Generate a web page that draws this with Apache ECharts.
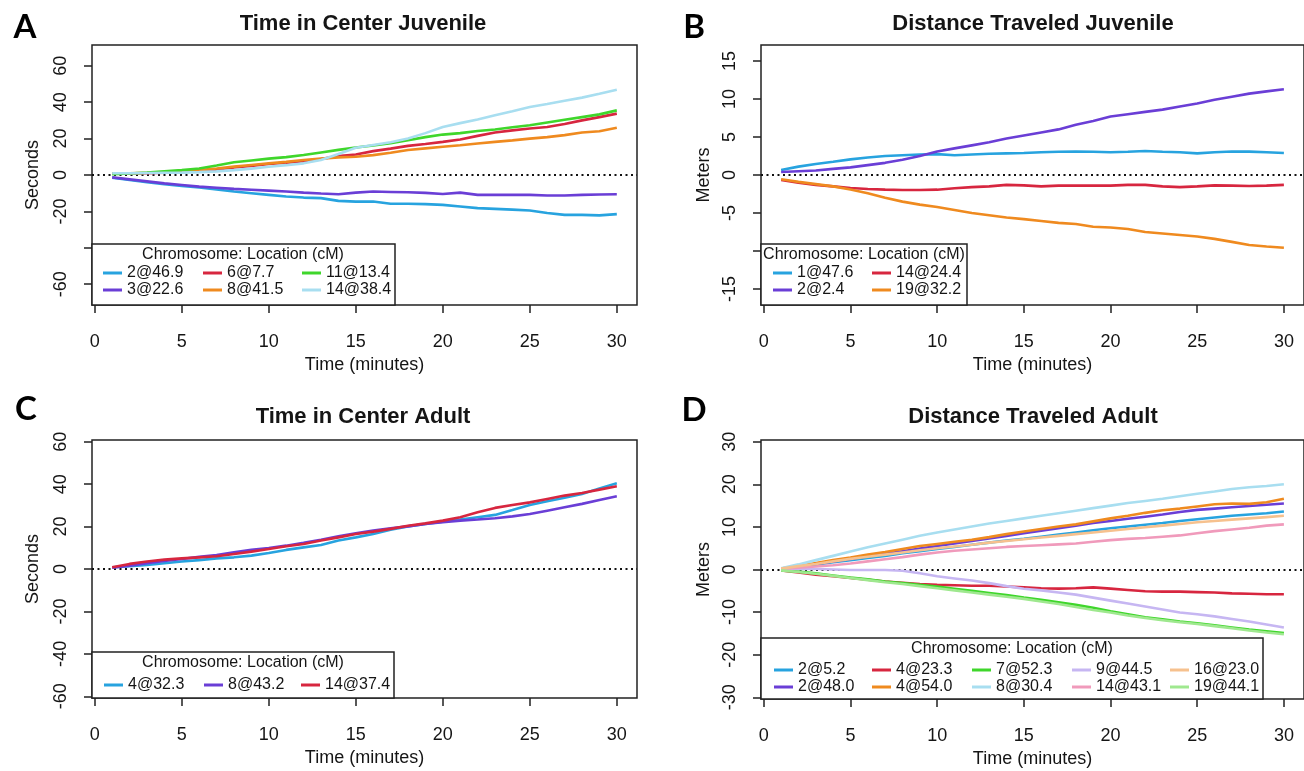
<!DOCTYPE html>
<html>
<head>
<meta charset="utf-8">
<script src="https://cdn.jsdelivr.net/npm/echarts@6.0.0/dist/echarts.min.js"></script>
<style>
html,body{margin:0;padding:0;background:#fff;}
#chart{width:1304px;height:771px;}
</style>
</head>
<body>
<div id="chart"></div>
<script>
// ---------- data ----------
const minutes = [1,2,3,4,5,6,7,8,9,10,11,12,13,14,15,16,17,18,19,20,21,22,23,24,25,26,27,28,29,30];

// Panel A: Time in Center Juvenile (seconds)
const namesA = ['2@46.9','3@22.6','6@7.7','8@41.5','11@13.4','14@38.4'];
const a_2_46_9 = [-1.5,-2.7,-3.9,-5.1,-6.0,-6.9,-8.0,-9.1,-10.0,-10.9,-11.8,-12.4,-12.7,-14.2,-14.6,-14.6,-15.8,-15.8,-16.0,-16.4,-17.3,-18.2,-18.6,-19.0,-19.5,-20.9,-21.9,-21.9,-22.2,-21.5];
const a_3_22_6 = [-1.3,-2.4,-3.5,-4.6,-5.5,-6.4,-7.0,-7.6,-8.1,-8.6,-9.1,-9.7,-10.2,-10.6,-9.7,-9.1,-9.3,-9.5,-9.8,-10.4,-9.7,-10.9,-10.9,-10.9,-10.9,-11.3,-11.3,-10.9,-10.7,-10.6];
const a_6_7_7 = [0.7,0.8,1.0,1.3,1.7,2.2,3.0,4.2,5.0,6.0,6.8,7.6,8.8,10.4,11.3,13.1,14.5,16.0,17.0,18.2,19.5,21.5,23.3,24.5,25.5,26.4,28.0,30.0,31.8,33.7];
const a_8_41_5 = [0.9,1.0,1.2,1.5,1.9,2.7,3.6,4.6,5.5,6.4,7.2,8.2,9.0,9.7,10.0,10.9,12.2,13.7,14.6,15.5,16.3,17.3,18.2,19.0,20.0,20.8,21.9,23.3,24.0,25.9];
const a_11_13_4 = [0.5,0.8,1.3,2.0,2.7,3.6,5.2,7.0,8.0,9.0,9.8,11.0,12.4,13.8,15.1,16.2,17.4,19.1,20.8,22.2,23.0,24.2,25.0,26.2,27.3,28.8,30.3,31.8,33.3,35.5];
const a_14_38_4 = [1.0,1.0,1.1,1.2,1.3,1.6,2.0,2.7,3.5,4.5,5.4,6.4,8.2,11.5,15.0,16.5,18.0,20.0,23.0,26.4,28.5,30.5,32.8,35.0,37.3,39.0,40.8,42.5,44.6,46.8];

// Panel B: Distance Traveled Juvenile (meters)
const namesB = ['1@47.6','2@2.4','14@24.4','19@32.2'];
const b_1_47_6 = [0.66,1.1,1.45,1.75,2.06,2.3,2.5,2.6,2.7,2.75,2.6,2.7,2.8,2.85,2.9,3.0,3.05,3.07,3.05,3.0,3.05,3.16,3.05,3.0,2.85,3.0,3.1,3.07,3.0,2.9];
const b_2_2_4 = [0.4,0.5,0.6,0.8,1.0,1.3,1.6,2.0,2.5,3.1,3.5,3.9,4.3,4.8,5.2,5.6,6.0,6.6,7.1,7.7,8.0,8.3,8.6,9.0,9.4,9.9,10.3,10.7,11.0,11.27];
const b_14_24_4 = [-0.66,-1.0,-1.3,-1.5,-1.7,-1.85,-1.93,-1.97,-1.97,-1.93,-1.75,-1.6,-1.5,-1.3,-1.36,-1.5,-1.4,-1.4,-1.4,-1.4,-1.3,-1.3,-1.5,-1.6,-1.5,-1.36,-1.4,-1.45,-1.4,-1.3];
const b_19_32_2 = [-0.57,-0.9,-1.2,-1.5,-1.9,-2.4,-3.0,-3.5,-3.9,-4.2,-4.6,-5.0,-5.3,-5.6,-5.8,-6.05,-6.3,-6.45,-6.8,-6.9,-7.1,-7.5,-7.7,-7.9,-8.1,-8.4,-8.8,-9.2,-9.4,-9.56];

// Panel C: Time in Center Adult (seconds)
const namesC = ['4@32.3','8@43.2','14@37.4'];
const c_4_32_3 = [0.8,1.3,1.9,2.7,3.5,4.2,5.0,5.5,6.3,7.5,9.0,10.2,11.3,13.4,14.9,16.5,18.5,20.1,21.2,22.3,23.3,24.4,25.5,27.8,30.2,31.9,33.6,35.4,38.0,40.4];
const c_8_43_2 = [0.6,1.6,2.7,3.8,4.7,5.7,6.6,7.9,9.0,9.9,11.0,12.3,13.8,15.4,16.8,18.1,19.2,20.1,21.2,22.0,22.8,23.3,23.9,24.8,25.9,27.5,29.1,30.7,32.5,34.3];
const c_14_37_4 = [0.8,2.4,3.5,4.4,5.0,5.5,6.0,7.1,8.2,9.4,10.7,11.8,13.4,14.9,16.5,17.6,18.9,20.4,21.5,22.8,24.4,26.7,28.8,30.2,31.4,33.0,34.6,35.8,37.4,39.0];

// Panel D: Distance Traveled Adult (meters)
const namesD = ['2@5.2','2@48.0','4@23.3','4@54.0','7@52.3','8@30.4','9@44.5','14@43.1','16@23.0','19@44.1'];
const d_2_5_2 = [0.1,0.6,1.1,1.7,2.2,2.7,3.2,3.8,4.3,4.8,5.3,5.8,6.3,6.8,7.2,7.7,8.2,8.7,9.2,9.7,10.1,10.5,10.9,11.4,11.8,12.2,12.6,12.9,13.2,13.6];
const d_2_48_0 = [0.2,0.7,1.3,1.9,2.5,3.1,3.7,4.3,4.9,5.5,6.1,6.7,7.3,7.9,8.5,9.1,9.7,10.3,10.9,11.4,11.9,12.4,12.9,13.5,14.0,14.3,14.6,14.9,15.2,15.5];
const d_4_23_3 = [-0.2,-0.7,-1.2,-1.6,-2.0,-2.4,-2.8,-3.1,-3.4,-3.6,-3.7,-3.8,-3.8,-4.0,-4.2,-4.4,-4.5,-4.4,-4.2,-4.5,-4.8,-5.1,-5.2,-5.2,-5.3,-5.4,-5.6,-5.7,-5.8,-5.8];
const d_4_54_0 = [0.2,0.8,1.5,2.2,2.8,3.5,4.1,4.8,5.5,6.0,6.5,7.0,7.6,8.3,8.9,9.5,10.1,10.6,11.3,12.0,12.6,13.3,13.9,14.3,14.8,15.3,15.5,15.4,15.8,16.6];
const d_7_52_3 = [-0.2,-0.5,-0.9,-1.4,-1.9,-2.3,-2.8,-3.2,-3.6,-4.0,-4.5,-5.0,-5.5,-6.0,-6.6,-7.1,-7.7,-8.3,-9.0,-9.8,-10.5,-11.2,-11.7,-12.2,-12.6,-13.1,-13.6,-14.1,-14.5,-14.9];
const d_8_30_4 = [0.3,1.2,2.2,3.2,4.2,5.2,6.1,7.0,7.9,8.7,9.4,10.1,10.8,11.4,12.0,12.6,13.2,13.8,14.4,15.0,15.6,16.1,16.6,17.2,17.8,18.3,18.9,19.3,19.6,20.0];
const d_9_44_5 = [0.0,0.1,0.1,0.0,-0.1,-0.1,-0.1,-0.3,-0.9,-1.6,-2.1,-2.6,-3.2,-3.9,-4.5,-4.9,-5.4,-5.9,-6.6,-7.3,-8.0,-8.7,-9.4,-10.1,-10.5,-11.0,-11.6,-12.2,-12.9,-13.6];
const d_14_43_1 = [0.1,0.4,0.7,1.0,1.4,1.9,2.4,2.9,3.5,4.0,4.4,4.7,5.0,5.3,5.5,5.7,5.9,6.1,6.5,6.9,7.2,7.4,7.7,8.0,8.5,9.0,9.4,9.8,10.3,10.6];
const d_16_23_0 = [0.2,0.8,1.3,1.9,2.5,3.0,3.5,4.0,4.5,5.0,5.4,5.8,6.3,6.7,7.1,7.5,7.9,8.3,8.7,9.1,9.5,9.9,10.3,10.7,11.1,11.4,11.7,12.0,12.3,12.6];
const d_19_44_1 = [-0.2,-0.6,-1.0,-1.5,-2.0,-2.5,-3.0,-3.4,-3.9,-4.4,-4.9,-5.4,-5.9,-6.4,-6.9,-7.5,-8.1,-8.8,-9.5,-10.1,-10.8,-11.4,-11.9,-12.4,-12.8,-13.3,-13.8,-14.3,-14.8,-15.2];

// tick values
const xTicks = [0,5,10,15,20,25,30];
const yTicksA = [-60,-40,-20,0,20,40,60];
const yLabelsA = [-60,-20,0,20,40,60];
const yTicksB = [-15,-10,-5,0,5,10,15];
const yLabelsB = [-15,-5,0,5,10,15];
const yTicksC = [-60,-40,-20,0,20,40,60];
const yTicksD = [-30,-20,-10,0,10,20,30];

const titles = ['Time in Center Juvenile','Distance Traveled Juvenile','Time in Center Adult','Distance Traveled Adult'];
const panelLetters = ['A','B','C','D'];
const yNames = ['Seconds','Meters','Seconds','Meters'];
const legendTitle = 'Chromosome: Location (cM)';

// ---------- styling ----------
const COL = {
  blue:'#27a3df', purple:'#6a3ed6', red:'#d7263f', orange:'#ef8a1f', green:'#3fd62b', lightblue:'#a8def0',
  lavender:'#c6b6f2', pink:'#f09abb', lightorange:'#f6c18e', lightgreen:'#9fe88f'
};
const INK = '#151515';
const FONT = 'Liberation Sans';

const panelSeries = [
  [[namesA[0],a_2_46_9,COL.blue],[namesA[1],a_3_22_6,COL.purple],[namesA[2],a_6_7_7,COL.red],[namesA[3],a_8_41_5,COL.orange],[namesA[4],a_11_13_4,COL.green],[namesA[5],a_14_38_4,COL.lightblue]],
  [[namesB[0],b_1_47_6,COL.blue],[namesB[1],b_2_2_4,COL.purple],[namesB[2],b_14_24_4,COL.red],[namesB[3],b_19_32_2,COL.orange]],
  [[namesC[0],c_4_32_3,COL.blue],[namesC[1],c_8_43_2,COL.purple],[namesC[2],c_14_37_4,COL.red]],
  [[namesD[0],d_2_5_2,COL.blue],[namesD[1],d_2_48_0,COL.purple],[namesD[2],d_4_23_3,COL.red],[namesD[3],d_4_54_0,COL.orange],[namesD[4],d_7_52_3,COL.green],[namesD[5],d_8_30_4,COL.lightblue],[namesD[6],d_9_44_5,COL.lavender],[namesD[7],d_14_43_1,COL.pink],[namesD[8],d_16_23_0,COL.lightorange],[namesD[9],d_19_44_1,COL.lightgreen]]
];

const grids = [
  {left:92, top:45, width:545, height:260},
  {left:761, top:45, width:545, height:260},
  {left:92, top:440, width:545, height:258},
  {left:761, top:440, width:545, height:259}
];
const yLim = [71.4, 17.1, 60.8, 30.4];
const yTicks = [yTicksA, yTicksB, yTicksC, yTicksD];
const yLabels = [yLabelsA, yLabelsB, yTicksC, yTicksD];

const option = {
  animation:false,
  textStyle:{fontFamily:FONT, color:INK},
  grid: grids.map(g => Object.assign({show:true, borderColor:'#222', borderWidth:1.5, backgroundColor:'transparent'}, g)),
  xAxis: grids.map((g,i) => ({
    gridIndex:i, type:'value', min:-0.16, max:31.16, position:'bottom',
    splitLine:{show:false}, axisLine:{show:false, onZero:false},
    axisTick:{show:true, inside:false, length:8, customValues:xTicks, lineStyle:{color:'#222', width:1.5}},
    axisLabel:{customValues:xTicks, fontSize:18, margin:28, color:INK, fontFamily:FONT},
    name:'Time (minutes)', nameLocation:'middle', nameGap:51,
    nameTextStyle:{fontSize:18, color:INK, fontFamily:FONT}
  })),
  yAxis: grids.map((g,i) => ({
    gridIndex:i, type:'value', min:-yLim[i], max:yLim[i], position:'left',
    splitLine:{show:false}, axisLine:{show:false, onZero:false},
    axisTick:{show:true, inside:false, length:8, customValues:yTicks[i], lineStyle:{color:'#222', width:1.5}},
    axisLabel:{customValues:yLabels[i], fontSize:18, margin:22, rotate:90, color:INK, fontFamily:FONT},
    name:yNames[i], nameLocation:'middle', nameGap:(i%2===0?50:48),
    nameTextStyle:{fontSize:18, color:INK, fontFamily:FONT}
  })),
  title: titles.map((t,i) => ({
    text:t, left:(i%2===0?363:1033), top:(i<2?13:406), textAlign:'center',
    textStyle:{fontSize:22, fontWeight:'bold', color:INK, fontFamily:FONT}, padding:0
  })),
  series: [],
  legend: [],
  graphic: []
};

panelSeries.forEach((list, p) => {
  list.forEach((s, k) => {
    const ser = {
      type:'line', name:s[0], xAxisIndex:p, yAxisIndex:p,
      data: minutes.map((m, j) => [m, s[1][j]]),
      symbol:'none', showSymbol:false, color:s[2],
      lineStyle:{width:2.6, color:s[2]}, z:3
    };
    if (k === 0) {
      ser.markLine = {silent:true, symbol:'none', label:{show:false},
        lineStyle:{color:'#111', type:[2,3.5], width:2},
        data:[{yAxis:0}], z:2};
    }
    option.series.push(ser);
  });
});

// legends
const legendSpecs = [
  {cols:[[namesA[0],namesA[1]],[namesA[2],namesA[3]],[namesA[4],namesA[5]]], xs:[103,203,302], top:264.5, box:[92,244,303,61], titleX:243, titleY:255},
  {cols:[[namesB[0],namesB[1]],[namesB[2],namesB[3]]], xs:[773,872], top:264.5, box:[761,244,206,61], titleX:864, titleY:255},
  {cols:[[namesC[0]],[namesC[1]],[namesC[2]]], xs:[104,204,301], top:676.5, box:[92,652,302,46], titleX:243, titleY:663},
  {cols:[[namesD[0],namesD[1]],[namesD[2],namesD[3]],[namesD[4],namesD[5]],[namesD[6],namesD[7]],[namesD[8],namesD[9]]], xs:[774,872,972,1072,1170], top:661.5, box:[761,638,502,61], titleX:1012, titleY:649}
];
legendSpecs.forEach(spec => {
  option.graphic.push({type:'rect', shape:{x:spec.box[0], y:spec.box[1], width:spec.box[2], height:spec.box[3]},
    style:{fill:'#fff', stroke:'#222', lineWidth:1.5}, z:10});
  option.graphic.push({type:'text', x:spec.titleX, y:spec.titleY,
    style:{text:legendTitle, fill:INK, font:'16px "Liberation Sans"', textAlign:'center', textVerticalAlign:'middle'}, z:11});
  spec.cols.forEach((names, c) => {
    option.legend.push({
      orient:'vertical', left:spec.xs[c], top:spec.top, padding:0, itemGap:0,
      itemWidth:19, itemHeight:3, icon:'rect', data:names, selectedMode:false, z:20,
      textStyle:{fontSize:16, lineHeight:17, color:INK, fontFamily:FONT}
    });
  });
});

// panel letters
const letterPos = [[25,27],[694,27],[26,409],[694,410]];
panelLetters.forEach((L, i) => {
  option.graphic.push({type:'text', x:letterPos[i][0], y:letterPos[i][1],
    style:{text:L, fill:'#000', font:'bold 33px Lato', textAlign:'center', textVerticalAlign:'middle'}, z:11});
});

const chart = echarts.init(document.getElementById('chart'), null, {renderer:'canvas'});
chart.setOption(option);
</script>
</body>
</html>
